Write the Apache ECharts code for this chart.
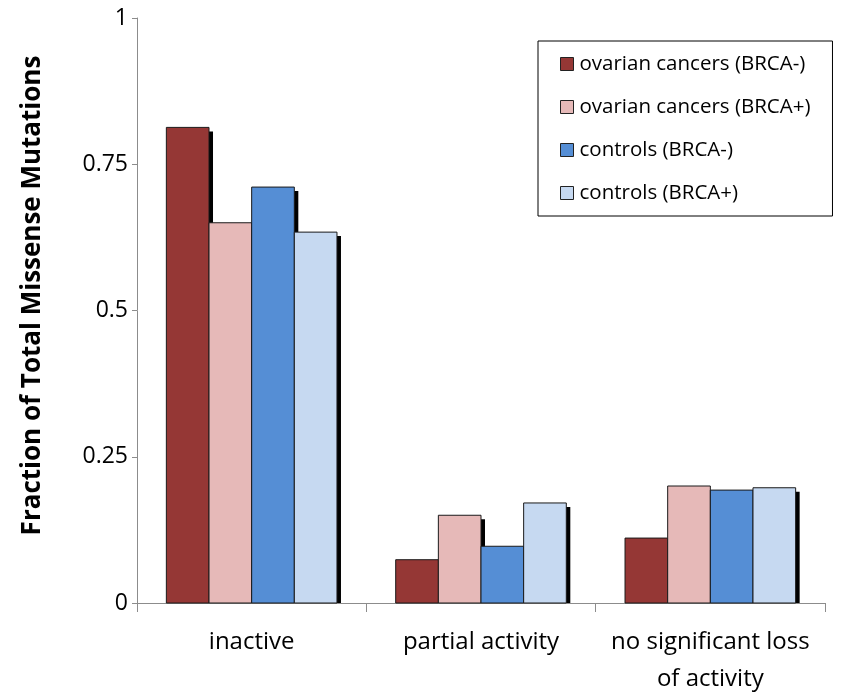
<!DOCTYPE html>
<html>
<head>
<meta charset="utf-8">
<script src="https://cdn.jsdelivr.net/npm/echarts@6/dist/echarts.min.js"></script>
<style>
  html, body { margin: 0; padding: 0; background: #fff; }
  #chart { width: 842px; height: 695px; }
</style>
</head>
<body>
<div id="chart"></div>
<script>
// Mutation classes along the x axis
const categories = ['inactive', 'partial activity', 'no significant loss\nof activity'];

// Fraction of total missense mutations per group
const ovarianBrcaNeg = [0.813, 0.074, 0.111];
const ovarianBrcaPos = [0.650, 0.150, 0.200];
const controlsBrcaNeg = [0.711, 0.097, 0.193];
const controlsBrcaPos = [0.634, 0.171, 0.197];

const seriesNames = [
  'ovarian cancers (BRCA-)',
  'ovarian cancers (BRCA+)',
  'controls (BRCA-)',
  'controls (BRCA+)'
];
const seriesValues = [ovarianBrcaNeg, ovarianBrcaPos, controlsBrcaNeg, controlsBrcaPos];
const seriesColors = ['#953735', '#E6B9B8', '#558ED5', '#C6D9F1'];

const yTicks = [0, 0.25, 0.5, 0.75, 1];

const FONT = '"Open Sans", "Noto Sans", sans-serif';
const BAR_FRACTION = 0.186;   // width of one bar relative to the category band
const SHADOW = 4;             // drop-shadow offset in px

const chart = echarts.init(document.getElementById('chart'), null, { renderer: 'canvas' });

// Clustered bars with a hard black drop shadow that stops at the baseline
function makeRenderItem(seriesIdx, color) {
  return function (params, api) {
    const cat = api.value(0);
    const val = api.value(1);
    const base = api.coord([cat, 0]);
    const top = api.coord([cat, val]);
    const band = api.size([1, 0])[0];
    const w = band * BAR_FRACTION;
    const x0 = base[0] - (w * seriesNames.length) / 2 + seriesIdx * w;
    const h = base[1] - top[1];
    return {
      type: 'group',
      children: [
        {
          type: 'rect',
          shape: { x: x0 + SHADOW, y: top[1] + SHADOW, width: w, height: Math.max(0, h - SHADOW) },
          style: { fill: '#000' }
        },
        {
          type: 'rect',
          shape: { x: x0, y: top[1], width: w, height: h },
          style: { fill: color, stroke: '#1a1a1a', lineWidth: 1 }
        }
      ]
    };
  };
}

const series = seriesNames.map((name, i) => ({
  name: name,
  type: 'custom',
  data: seriesValues[i].map((v, c) => [c, v]),
  encode: { x: 0, y: 1 },
  itemStyle: { color: seriesColors[i] },
  renderItem: makeRenderItem(i, seriesColors[i]),
  emphasis: { disabled: true }
}));

chart.setOption({
  animation: false,
  backgroundColor: '#fff',
  grid: { left: 137, right: 17, top: 18, bottom: 92, containLabel: false, outerBoundsMode: 'none' },
  legend: {
    orient: 'vertical',
    left: 538,
    top: 41,
    padding: [11, 22, 11, 22],
    borderColor: '#000',
    borderWidth: 1,
    itemWidth: 13,
    itemHeight: 13,
    itemGap: 19,
    icon: 'rect',
    itemStyle: { borderColor: '#222', borderWidth: 1 },
    textStyle: { fontFamily: FONT, fontSize: 20.5, color: '#000', lineHeight: 24, padding: [0, 0, 0, 1] },
    data: seriesNames
  },
  xAxis: {
    type: 'category',
    data: categories,
    axisLine: { lineStyle: { color: '#8c8c8c', width: 1 } },
    axisTick: { show: true, inside: false, length: 9, alignWithLabel: false, lineStyle: { color: '#8c8c8c' } },
    axisLabel: {
      fontFamily: FONT, fontSize: 24, color: '#000', margin: 21, lineHeight: 37,
      interval: 0
    }
  },
  yAxis: {
    type: 'value',
    min: 0,
    max: 1,
    interval: 0.25,
    name: 'Fraction of Total Missense Mutations',
    nameLocation: 'middle',
    nameGap: 91,
    nameTextStyle: {
      fontFamily: FONT, fontSize: 26, fontWeight: 'bold', color: '#000',
      padding: [0, 0, 0, 30]
    },
    axisLine: { show: true, lineStyle: { color: '#8c8c8c', width: 1 } },
    axisTick: { show: true, inside: false, length: 5, lineStyle: { color: '#8c8c8c' } },
    splitLine: { show: false },
    axisLabel: {
      fontFamily: FONT, fontSize: 23, color: '#000', margin: 9,
      formatter: v => {
        const t = yTicks.find(x => Math.abs(x - v) < 1e-9);
        return t === undefined ? '' : String(t);
      }
    }
  },
  series: series
});
</script>
</body>
</html>
